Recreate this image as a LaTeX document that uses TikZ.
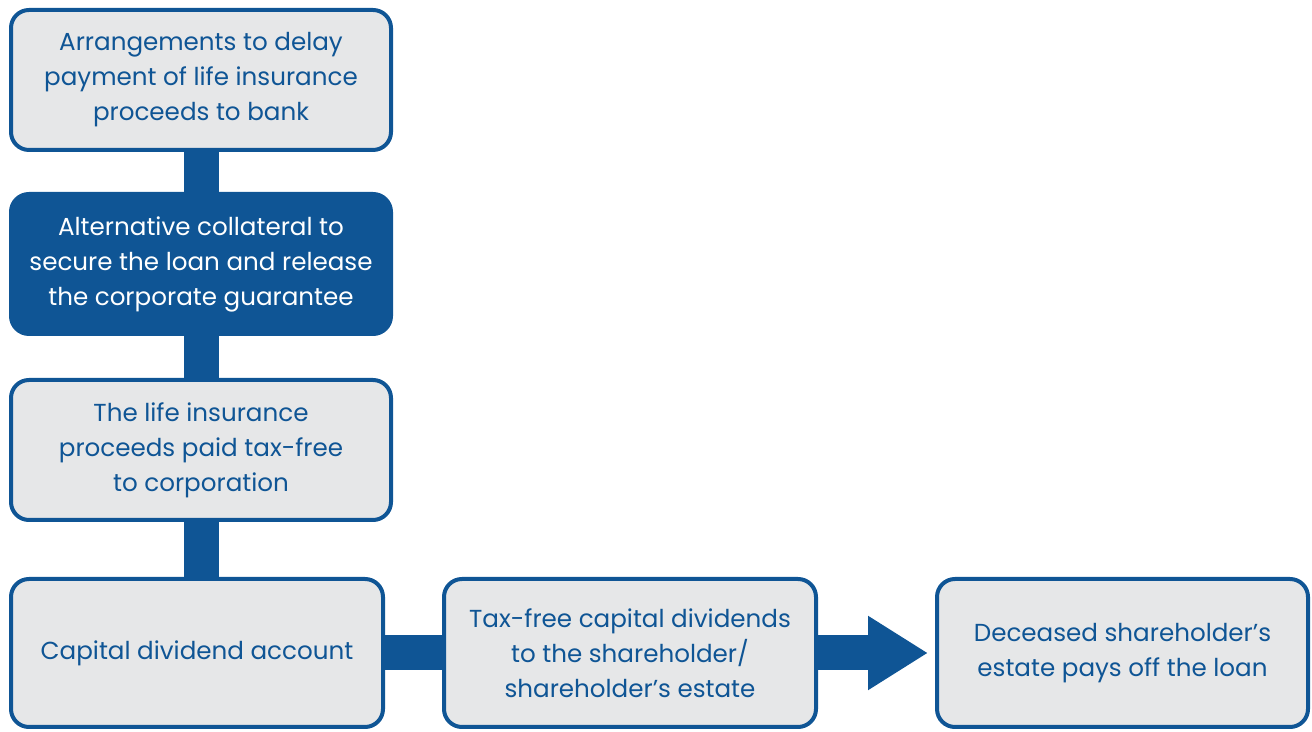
\documentclass[tikz,border=0pt]{standalone}
\usepackage{fontspec}
\setmainfont{Poppins}
\usetikzlibrary{arrows.meta}
\definecolor{flowblue}{RGB}{15,85,149}
\definecolor{flowgray}{RGB}{230,231,232}
\begin{document}
\begin{tikzpicture}[
	box/.style={draw=flowblue,fill=flowgray,line width=0.08cm,rounded corners=0.36cm,text=flowblue,align=center,font=\fontsize{14}{19.9}\selectfont,inner sep=0pt},
	darkbox/.style={box,fill=flowblue,text=white},
	bar/.style={flowblue,line width=0.7cm}
]
\useasboundingbox (0,0) rectangle (26.24,14.64);
			\node[box,minimum width=7.6cm,minimum height=2.8cm] (p1) at (4.02,13.04){Arrangements to delay\\payment of life insurance\\proceeds to bank};
			\node[darkbox,minimum width=7.6cm,minimum height=2.8cm] (p2) at (4.02,9.36){Alternative collateral to\\secure the loan and release\\the corporate guarantee};
			\node[box,minimum width=7.6cm,minimum height=2.8cm] (p3) at (4.02,5.64){The life insurance\\proceeds paid tax-free\\to corporation};
			\node[box,minimum width=7.44cm,minimum height=2.96cm] (p4) at (3.94,1.58){Capital dividend account};
			\node[box,minimum width=7.44cm,minimum height=2.96cm] (p5) at (12.6,1.58){Tax-free capital dividends\\to the shareholder/\\shareholder’s estate};
			\node[box,minimum width=7.42cm,minimum height=2.96cm] (p6) at (22.45,1.58){Deceased shareholder’s\\estate pays off the loan};
			\draw[bar] (p1) -- (p2);
			\draw[bar] (p2) -- (p3);
			\draw[bar] (p3) -- (p3 |- p4.north);
			\draw[bar] (p4) -- (p5);
			\draw[bar,-{Triangle[length=1.2cm,width=1.4cm]},shorten >=0.14cm] (p5) -- (p6);
		\end{tikzpicture}
\end{document}
